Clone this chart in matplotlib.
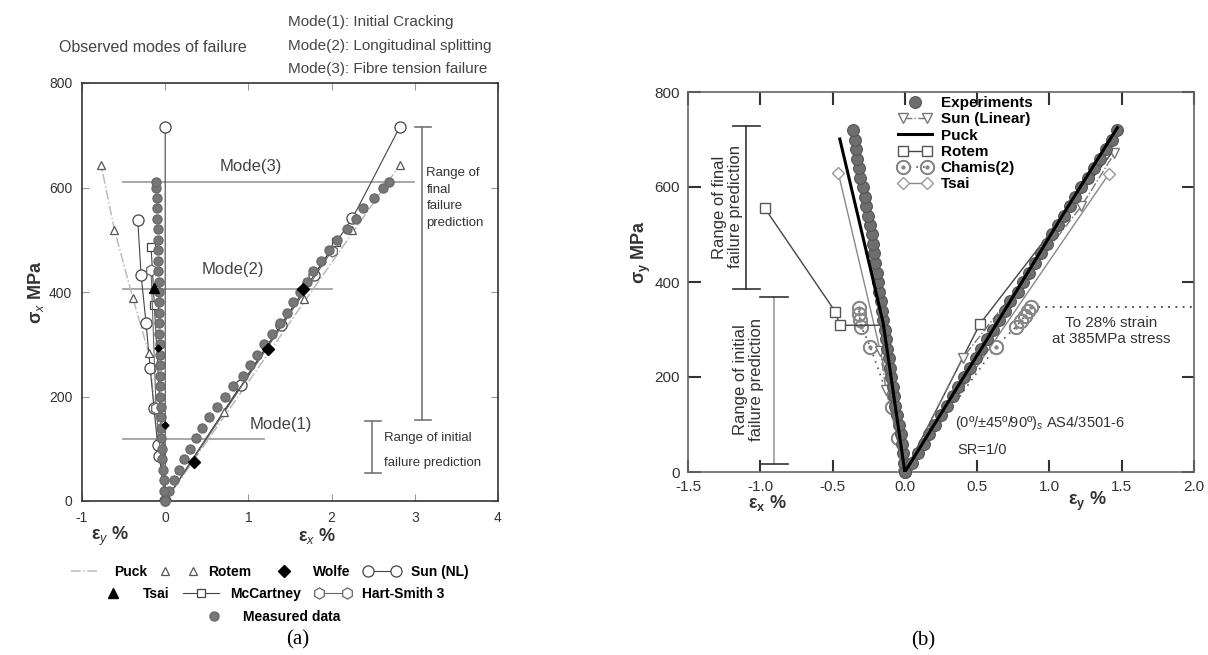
import matplotlib
matplotlib.use('Agg')
import matplotlib.pyplot as plt
from matplotlib.legend_handler import HandlerLine2D

plt.rcParams['font.family'] = ['Liberation Sans', 'DejaVu Sans']
plt.rcParams['mathtext.fontset'] = 'custom'
plt.rcParams['mathtext.rm'] = 'Liberation Sans'
plt.rcParams['mathtext.it'] = 'Liberation Sans:italic'
plt.rcParams['mathtext.bf'] = 'Liberation Sans:bold'
plt.rcParams['axes.unicode_minus'] = False

W, H = 1208, 655

# ---------------- panel (a) data ----------------
meas_stress = [0, 20, 40, 60, 80, 100, 120, 140, 160, 180, 200, 220, 240, 260, 280, 300,
               320, 340, 360, 380, 400, 420, 440, 460, 480, 500, 520, 540, 560, 580, 600, 610]
meas_ex = [0, 0.05, 0.10, 0.16, 0.23, 0.30, 0.37, 0.44, 0.53, 0.62, 0.72, 0.82, 0.93, 1.02, 1.10, 1.19,
           1.28, 1.38, 1.46, 1.54, 1.62, 1.70, 1.78, 1.87, 1.97, 2.07, 2.19, 2.29, 2.38, 2.51, 2.62, 2.69]
meas_ey = [0, -0.01, -0.02, -0.03, -0.035, -0.04, -0.045, -0.05, -0.052, -0.055, -0.057, -0.06, -0.062,
           -0.064, -0.066, -0.068, -0.07, -0.072, -0.074, -0.076, -0.078, -0.08, -0.082, -0.084, -0.086,
           -0.088, -0.09, -0.093, -0.096, -0.10, -0.105, -0.11]

puck_a_ey = [0, -0.2, -0.39, -0.61, -0.77]
puck_a_ey_s = [0, 284, 389, 519, 643]
puck_a_ex = [0, 2.82]
puck_a_ex_s = [0, 643]

rotem_a_x = [-0.2, -0.39, -0.61, -0.77, 0.71, 1.67, 2.25, 2.82]
rotem_a_s = [284, 389, 519, 643, 171, 387, 519, 643]

wolfe_a_x = [0.35, 1.24, 1.66]
wolfe_a_s = [75, 290, 405]
wolfe_a_ey = [-0.09, 0.0]
wolfe_a_ey_s = [293, 145]

tsai_a_x = [-0.13]
tsai_a_s = [407]

sun_a_ey = [0, 0, -0.07, -0.09, -0.135, -0.18, -0.23, -0.29, -0.33]
sun_a_ey_s = [716, 0, 86, 107, 178, 254, 340, 433, 538]
sun_a_ex = [0, 0.91, 1.39, 1.79, 2.25, 2.82]
sun_a_ex_s = [0, 222, 337, 433, 541, 716]

mcc_a_ey = [0, -0.13, -0.17]
mcc_a_ey_s = [0, 375, 487]
mcc_a_ex = [0, 2.05]
mcc_a_ex_s = [0, 495]

hart_a_ey = [0, -0.11, -0.17]
hart_a_ey_s = [0, 178, 442]
hart_a_ex = [0, 2.0]
hart_a_ex_s = [0, 478]

mode_levels = [119, 405, 611]
mode_x0 = [-0.51, -0.51, -0.51]
mode_x1 = [1.19, 2.0, 2.99]
mode_names = ['Mode(1)', 'Mode(2)', 'Mode(3)']
mode_label_x = [1.39, 0.81, 1.03]
mode_label_s = [147, 443, 641]

# ---------------- panel (b) data ----------------
exp_stress = [0, 20, 40, 60, 80, 100, 120, 140, 160, 180, 200, 220, 240, 260, 280, 300, 320, 340, 360,
              380, 400, 420, 440, 460, 480, 500, 520, 540, 560, 580, 600, 620, 640, 660, 680, 700, 720]
exp_ex = [0, -0.005, -0.01, -0.02, -0.03, -0.04, -0.055, -0.068, -0.076, -0.085, -0.094, -0.102, -0.113,
          -0.126, -0.132, -0.138, -0.148, -0.155, -0.165, -0.176, -0.188, -0.196, -0.204, -0.212, -0.222,
          -0.23, -0.24, -0.257, -0.268, -0.278, -0.292, -0.307, -0.318, -0.329, -0.335, -0.345, -0.358]
exp_ey = [0, 0.05, 0.09, 0.13, 0.17, 0.21, 0.25, 0.29, 0.33, 0.37, 0.41, 0.45, 0.49, 0.53, 0.57, 0.61,
          0.65, 0.69, 0.73, 0.78, 0.82, 0.86, 0.90, 0.94, 0.98, 1.02, 1.06, 1.10, 1.14, 1.18, 1.22, 1.27,
          1.31, 1.35, 1.39, 1.43, 1.47]

puck_b_ex = [0, -0.15, -0.45]
puck_b_ex_s = [0, 314, 701]
puck_b_ey = [0, 0.57, 1.10, 1.47]
puck_b_ey_s = [0, 280, 545, 725]

sun_b_ex = [0, -0.13, -0.17]
sun_b_ex_s = [0, 173, 255]
sun_b_ey = [0, 0.40, 1.22, 1.45]
sun_b_ey_s = [0, 240, 559, 671]

rotem_b_ex = [0, -0.17, -0.45, -0.48, -0.97]
rotem_b_ex_s = [0, 309, 309, 337, 556]
rotem_b_ey = [0, 0.52, 1.44]
rotem_b_ey_s = [0, 312, 675]

chamis_b_ex = [0, -0.05, -0.09, -0.24, -0.30, -0.31, -0.315, -0.32]
chamis_b_ex_s = [0, 72, 137, 264, 305, 320, 333, 345]
chamis_b_ey = [0, 0.63, 0.77, 0.80, 0.83, 0.85, 0.87]
chamis_b_ey_s = [0, 264, 306, 318, 328, 338, 347]
chamis_ext_x = [0.87, 2.0]
chamis_ext_s = [347, 347]

tsai_b_ex = [0, -0.11, -0.46]
tsai_b_ex_s = [0, 177, 629]
tsai_b_ey = [0, 1.41]
tsai_b_ey_s = [0, 627]


def fx(px):
    return px / W


def fy(py):
    return 1 - py / H


fig = plt.figure(figsize=(W / 100, H / 100), dpi=100)

# ================= panel (a) =================
axa = fig.add_axes([fx(82), fy(501), (498 - 82) / W, (501 - 83) / H])
axa.set_xlim(-1, 4)
axa.set_ylim(0, 800)
axa.set_xticks([-1, 0, 1, 2, 3, 4])
axa.set_yticks([0, 200, 400, 600, 800])
axa.tick_params(direction='in', length=5, width=0.8, color='#999', labelcolor='#333',
                labelsize=10, top=True, right=True, pad=7)
for s in axa.spines.values():
    s.set_color('#333')
    s.set_linewidth(1.2)

for lv, x0, x1 in zip(mode_levels, mode_x0, mode_x1):
    axa.plot([x0, x1], [lv, lv], color='#999', lw=1.2, zorder=1)
for name, lx, ls in zip(mode_names, mode_label_x, mode_label_s):
    axa.text(lx, ls, name, ha='center', va='center', fontsize=12, color='#444')

# range bars
axa.plot([3.09, 3.09], [155, 716], color='#777', lw=1.2)
axa.plot([3.0, 3.2], [716, 716], color='#777', lw=1.2)
axa.plot([3.0, 3.2], [155, 155], color='#777', lw=1.2)
axa.plot([2.49, 2.49], [53, 153], color='#777', lw=1.2)
axa.plot([2.40, 2.59], [153, 153], color='#777', lw=1.2)
axa.plot([2.40, 2.59], [53, 53], color='#777', lw=1.2)
axa.text(3.14, 580, 'Range of\nfinal\nfailure\nprediction', ha='left', va='center',
         fontsize=9.5, color='#333', linespacing=1.5)
axa.text(2.63, 120, 'Range of initial', ha='left', va='center', fontsize=9.5, color='#333')
axa.text(2.63, 73, 'failure prediction', ha='left', va='center', fontsize=9.5, color='#333')

l_puck, = axa.plot(puck_a_ey, puck_a_ey_s, color='#bbb', lw=1.1, ls='-.', label='Puck', zorder=2)
axa.plot(puck_a_ex, puck_a_ex_s, color='#bbb', lw=1.1, ls='-.', zorder=2)
l_rotem, = axa.plot(rotem_a_x, rotem_a_s, ls='none', marker='^', ms=6, mfc='white', mec='#555',
                    mew=0.9, label='Rotem', zorder=4)
l_sun, = axa.plot(sun_a_ey, sun_a_ey_s, color='#444', lw=0.8, marker='o', ms=8, mfc='white',
                  mec='#444', mew=0.9, label='Sun (NL)', zorder=3)
axa.plot(sun_a_ex, sun_a_ex_s, color='#444', lw=0.8, marker='o', ms=8, mfc='white',
         mec='#444', mew=0.9, zorder=3)
l_mcc, = axa.plot(mcc_a_ey, mcc_a_ey_s, color='#444', lw=0.8, marker='s', ms=6, mfc='white',
                  mec='#444', mew=0.9, markevery=[1, 2], label='McCartney', zorder=3)
axa.plot(mcc_a_ex, mcc_a_ex_s, color='#444', lw=0.8, marker='s', ms=6, mfc='white',
         mec='#444', mew=0.9, markevery=[1], zorder=3)
l_hart, = axa.plot(hart_a_ey, hart_a_ey_s, color='#666', lw=0.8, marker='h', ms=8, mfc='white',
                   mec='#666', mew=0.9, markevery=[1, 2], label='Hart-Smith 3', zorder=3)
axa.plot(hart_a_ex, hart_a_ex_s, color='#666', lw=0.8, marker='h', ms=8, mfc='white',
         mec='#666', mew=0.9, markevery=[1], zorder=3)
l_meas, = axa.plot(meas_ex, meas_stress, ls='none', marker='o', ms=6.5, mfc='#777', mec='#6a6a6a',
                   label='Measured data', zorder=5, clip_on=False)
axa.plot(meas_ey, meas_stress, ls='none', marker='o', ms=6.5, mfc='#777', mec='#6a6a6a',
         zorder=5, clip_on=False)
l_wolfe, = axa.plot(wolfe_a_x, wolfe_a_s, ls='none', marker='D', ms=6, color='black',
                    label='Wolfe', zorder=6)
axa.plot(wolfe_a_ey, wolfe_a_ey_s, ls='none', marker='D', ms=3.5, color='black', zorder=6)
l_tsai, = axa.plot(tsai_a_x, tsai_a_s, ls='none', marker='^', ms=6.5, color='black',
                   label='Tsai', zorder=6)

fig.text(fx(153), fy(48), 'Observed modes of failure', ha='center', va='center',
         fontsize=11.5, color='#444')
fig.text(fx(288), fy(22), 'Mode(1): Initial Cracking', ha='left', va='center', fontsize=11, color='#444')
fig.text(fx(288), fy(46), 'Mode(2): Longitudinal splitting', ha='left', va='center', fontsize=11,
         color='#444')
fig.text(fx(288), fy(69), 'Mode(3): Fibre tension failure', ha='left', va='center', fontsize=11,
         color='#444')
fig.text(fx(36), fy(292), 'σ$_x$ MPa', rotation=90, ha='center', va='center', fontsize=13,
         fontweight='bold', color='#333')
fig.text(fx(110), fy(536), 'ε$_y$ %', ha='center', va='center', fontsize=13, fontweight='bold',
         color='#333')
fig.text(fx(317), fy(536), 'ε$_x$ %', ha='center', va='center', fontsize=13, fontweight='bold',
         color='#333')

leg_kw = dict(loc='center', frameon=False, prop={'weight': 'bold', 'size': 10},
              handlelength=2.6, handletextpad=0.8, columnspacing=1.0, borderpad=0,
              borderaxespad=0)
hm2 = HandlerLine2D(numpoints=2)
hm1 = HandlerLine2D(numpoints=1)
fig.legend([l_puck, l_rotem, l_wolfe, l_sun], ['Puck', 'Rotem', 'Wolfe', 'Sun (NL)'], ncol=4,
           bbox_to_anchor=(fx(268), fy(572)),
           handler_map={l_puck: hm2, l_rotem: hm2, l_wolfe: hm1, l_sun: hm2}, **leg_kw)
fig.legend([l_tsai, l_mcc, l_hart], ['Tsai', 'McCartney', 'Hart-Smith 3'], ncol=3,
           bbox_to_anchor=(fx(270), fy(594)),
           handler_map={l_tsai: hm1, l_mcc: hm1, l_hart: hm2}, **leg_kw)
fig.legend([l_meas], ['Measured data'], ncol=1, bbox_to_anchor=(fx(268), fy(617)),
           handler_map={l_meas: hm1}, **leg_kw)
fig.text(fx(298), fy(640), '(a)', ha='center', va='center', fontsize=15,
         family=['Liberation Serif', 'DejaVu Serif'])

# ================= panel (b) =================
axb = fig.add_axes([fx(688), fy(472), (1194 - 688) / W, (472 - 92) / H])
axb.set_xlim(-1.5, 2.0)
axb.set_ylim(0, 800)
axb.set_xticks([-1.5, -1.0, -0.5, 0.0, 0.5, 1.0, 1.5, 2.0])
axb.set_xticklabels(['-1.5', '-1.0', '-0.5', '0.0', '0.5', '1.0', '1.5', '2.0'])
axb.set_yticks([0, 200, 400, 600, 800])
axb.tick_params(direction='in', length=9, width=1.5, color='#333', labelcolor='#333',
                labelsize=11, top=True, right=True, pad=6)
for s in axb.spines.values():
    s.set_color('#666')
    s.set_linewidth(1.2)

# range bars
axb.plot([-1.097, -1.097], [385, 728], color='#333', lw=1.2)
axb.plot([-1.186, -1.0], [728, 728], color='#333', lw=1.2)
axb.plot([-1.186, -1.0], [385, 385], color='#333', lw=1.2)
axb.plot([-0.903, -0.903], [17, 368], color='#999', lw=1.2)
axb.plot([-1.0, -0.807], [368, 368], color='#333', lw=1.2)
axb.plot([-1.0, -0.807], [17, 17], color='#333', lw=1.2)
axb.text(-1.228, 558, 'Range of final\nfailure prediction', rotation=90, ha='center', va='center',
         fontsize=12, color='#333', linespacing=1.1)
axb.text(-1.083, 194, 'Range of initial\nfailure prediction', rotation=90, ha='center', va='center',
         fontsize=12, color='#333', linespacing=1.1)

axb.plot(chamis_ext_x, chamis_ext_s, color='#444', lw=1.3, ls=(0, (1, 3)), zorder=2)
axb.text(1.43, 297, 'To 28% strain\nat 385MPa stress', ha='center', va='center', fontsize=11,
         color='#333', linespacing=1.2)
axb.text(0.345, 103, '(0º/±45º/90º)$_s$ AS4/3501-6', ha='left', va='center', fontsize=10.5,
         color='#333')
axb.text(0.36, 46, 'SR=1/0', ha='left', va='center', fontsize=10.5, color='#333')

b_tsai, = axb.plot(tsai_b_ex, tsai_b_ex_s, color='#888', lw=1.0, marker='D', ms=6, mfc='white',
                   mec='#999', label='Tsai', zorder=3)
axb.plot(tsai_b_ey, tsai_b_ey_s, color='#888', lw=1.0, marker='D', ms=6, mfc='white',
         mec='#999', zorder=3)
b_chamis, = axb.plot(chamis_b_ex, chamis_b_ex_s, color='#555', lw=1.2, ls=(0, (1, 3)),
                     marker=r'$\odot$', ms=10, mec='#888', mfc='#888', label='Chamis(2)', zorder=3)
axb.plot(chamis_b_ey, chamis_b_ey_s, color='#555', lw=1.2, ls=(0, (1, 3)),
         marker=r'$\odot$', ms=10, mec='#888', mfc='#888', zorder=3)
b_rotem, = axb.plot(rotem_b_ex, rotem_b_ex_s, color='#444', lw=1.0, marker='s', ms=7, mfc='white',
                    mec='#555', markevery=[2, 3, 4], label='Rotem', zorder=3)
axb.plot(rotem_b_ey, rotem_b_ey_s, color='#444', lw=1.0, marker='s', ms=7, mfc='white',
         mec='#555', markevery=[1], zorder=3)
b_sun, = axb.plot(sun_b_ex, sun_b_ex_s, color='#777', lw=1.0, ls='-.', marker='v', ms=7,
                  mfc='white', mec='#777', label='Sun (Linear)', zorder=3)
axb.plot(sun_b_ey, sun_b_ey_s, color='#777', lw=1.0, ls='-.', marker='v', ms=7,
         mfc='white', mec='#777', zorder=3)
b_exp, = axb.plot(exp_ex, exp_stress, ls='none', marker='o', ms=8.5, mfc='#6e6e6e', mec='#555',
                  mew=0.8, label='Experiments', zorder=4, clip_on=False)
axb.plot(exp_ey, exp_stress, ls='none', marker='o', ms=8.5, mfc='#6e6e6e', mec='#555',
         mew=0.8, zorder=4, clip_on=False)
b_puck, = axb.plot(puck_b_ex, puck_b_ex_s, color='black', lw=2.2, label='Puck', zorder=5)
axb.plot(puck_b_ey, puck_b_ey_s, color='black', lw=2.2, zorder=5)

axb.legend([b_exp, b_sun, b_puck, b_rotem, b_chamis, b_tsai],
           ['Experiments', 'Sun (Linear)', 'Puck', 'Rotem', 'Chamis(2)', 'Tsai'],
           loc='upper left', bbox_to_anchor=((898 - 688) / 506, (472 - 96) / 380),
           frameon=False, prop={'weight': 'bold', 'size': 11}, handlelength=2.2,
           handletextpad=0.6, labelspacing=0.15, borderpad=0, borderaxespad=0,
           handler_map={b_exp: HandlerLine2D(numpoints=1), b_sun: hm2, b_rotem: hm2,
                        b_chamis: hm2, b_tsai: hm2})

fig.text(fx(641), fy(252), 'σ$_\\mathbf{y}$ MPa', rotation=90, ha='center', va='center',
         fontsize=13, fontweight='bold', color='#333')
fig.text(fx(767), fy(503), 'ε$_\\mathbf{x}$ %', ha='center', va='center', fontsize=13,
         fontweight='bold', color='#333')
fig.text(fx(1087), fy(501), 'ε$_\\mathbf{y}$ %', ha='center', va='center', fontsize=13,
         fontweight='bold', color='#333')
fig.text(fx(923), fy(641), '(b)', ha='center', va='center', fontsize=15,
         family=['Liberation Serif', 'DejaVu Serif'])

fig.savefig('out.png', dpi=100)
